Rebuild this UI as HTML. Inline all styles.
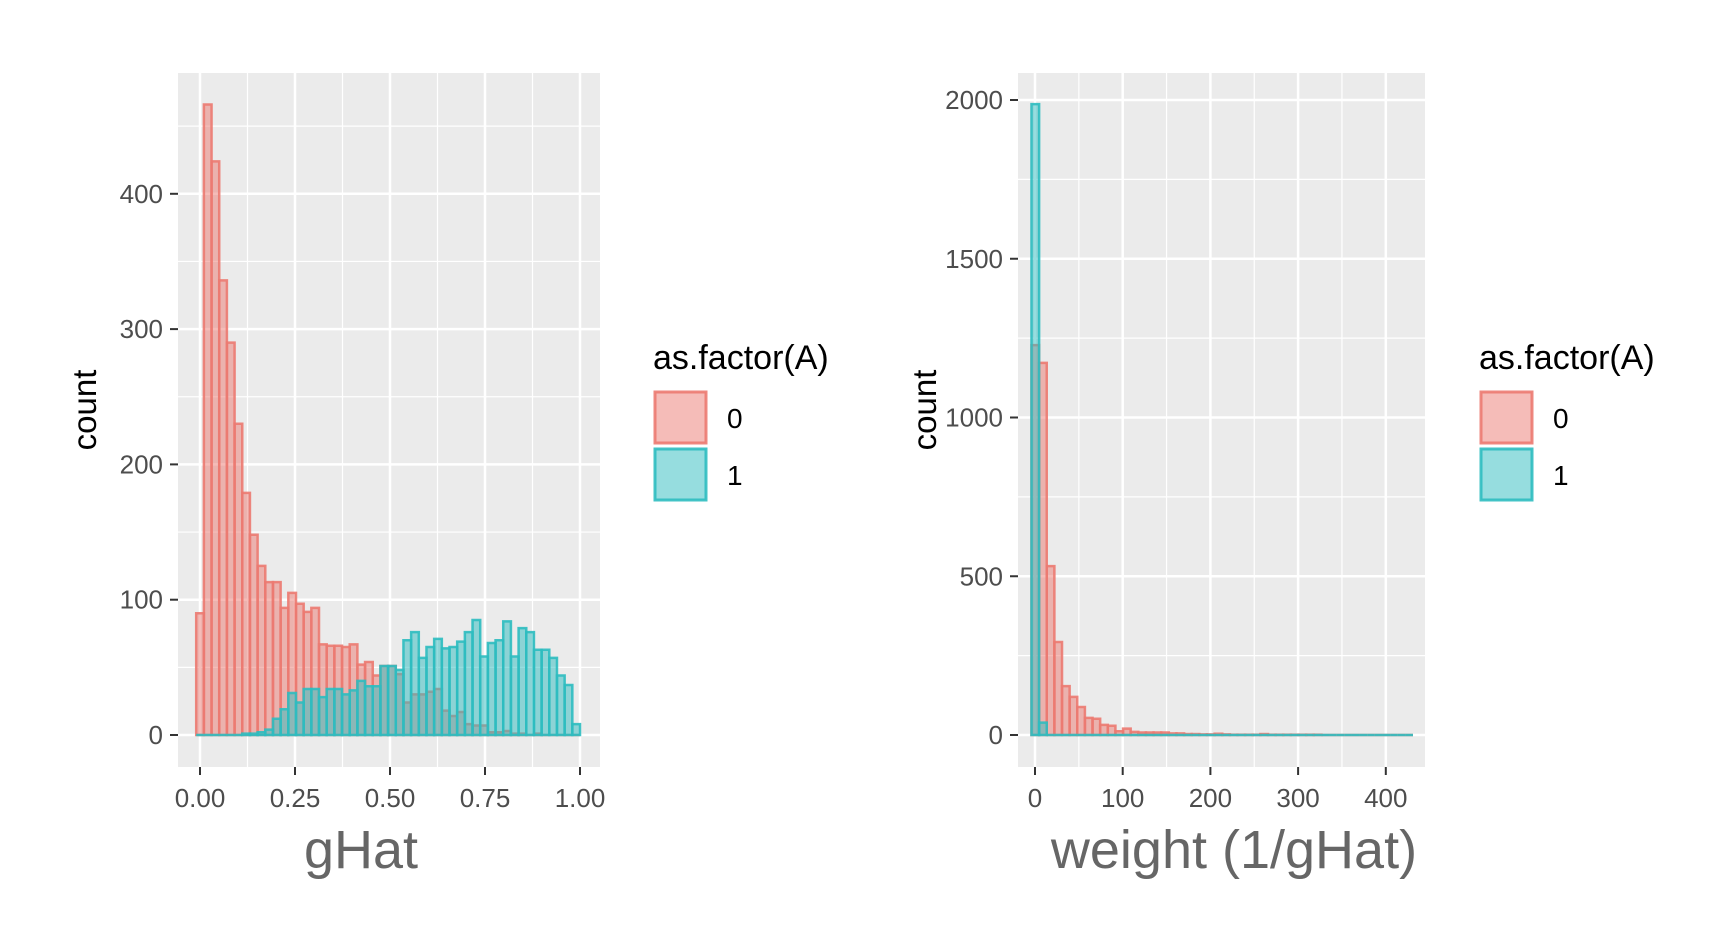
<!DOCTYPE html>
<html><head><meta charset="utf-8"><style>
body{margin:0;background:#fff;width:1716px;height:946px;overflow:hidden}
svg text{font-family:"Liberation Sans",sans-serif}
</style></head><body>
<svg id="root" width="1716" height="946" viewBox="0 0 1716 946" xmlns="http://www.w3.org/2000/svg">
<g id="left"></g>
<g id="right"></g>
</svg>
<script>
// Left chart data (gHat, 50 bins)
const ghatRed = [90,466,424,336,290,230,179,148,125,113,113,94,105,97,91,94,67,66,66,65,67,52,54,44,51,51,45,24,30,30,32,34,18,14,17,8,7,7,2,2,3,1,1,0,1,0,0,0,0,0];
const ghatTeal = [0,0,0,0,0,0,1,1,2,4,12,19,31,24,34,34,28,34,34,30,33,40,36,36,51,51,48,70,76,57,65,71,64,65,69,76,85,58,68,70,84,58,79,76,63,63,57,44,37,8];
const ghatYTicks = [0,100,200,300,400];
const ghatXTicks = ["0.00","0.25","0.50","0.75","1.00"];
// Right chart data (weight, 50 bins)
const wRed = [1228,1172,532,293,154,120,88,54,51,32,29,12,20,10,8,8,8,8,5,5,3,3,2,2,4,2,1,1,1,1,3,1,1,1,1,1,1,1,0,0,0,0,0,0,0,0,0,0,0,0];
const wTeal = [1987,39,0,0,0,0,0,0,0,0,0,0,0,0,0,0,0,0,0,0,0,0,0,0,0,0,0,0,0,0,0,0,0,0,0,0,0,0,0,0,0,0,0,0,0,0,0,0,0,0];
const wYTicks = [0,500,1000,1500,2000];
const wXTicks = ["0","100","200","300","400"];

const NS="http://www.w3.org/2000/svg";
function mk(p,tag,at){const e=document.createElementNS(NS,tag);for(const k in at)e.setAttribute(k,at[k]);p.appendChild(e);return e;}

function draw(g,cfg){
  const {px0,px1,py0,py1,xs,ys,binStart,binW,red,teal,yTicks,xTicks,xTickVals,yMinor,xMinor,title,titleX,legX}=cfg;
  const bg=mk(g,'rect',{x:px0,y:py0,width:px1-px0,height:py1-py0,fill:'#EBEBEB'});
  
  
  yMinor.forEach(v=>{const l=mk(g,'line',{x1:px0,x2:px1,y1:ys(v),y2:ys(v),stroke:'#fff','stroke-width':1.2});
    });
  xMinor.forEach(v=>{const l=mk(g,'line',{y1:py0,y2:py1,x1:xs(v),x2:xs(v),stroke:'#fff','stroke-width':1.2});
    });
  yTicks.forEach(v=>{const l=mk(g,'line',{x1:px0,x2:px1,y1:ys(v),y2:ys(v),stroke:'#fff','stroke-width':2.5});
    
    const t=mk(g,'line',{x1:px0-8,x2:px0,y1:ys(v),y2:ys(v),stroke:'#333','stroke-width':2});
    
    const tx=mk(g,'text',{x:px0-15,y:ys(v)+9,'text-anchor':'end','font-size':26,fill:'#4D4D4D'});tx.textContent=String(v);
    });
  xTickVals.forEach((v,i)=>{const l=mk(g,'line',{y1:py0,y2:py1,x1:xs(v),x2:xs(v),stroke:'#fff','stroke-width':2.5});
    
    const t=mk(g,'line',{y1:py1,y2:py1+8,x1:xs(v),x2:xs(v),stroke:'#333','stroke-width':2});
    
    const tx=mk(g,'text',{x:xs(v),y:py1+40,'text-anchor':'middle','font-size':26,fill:'#4D4D4D'});tx.textContent=xTicks[i];
    });
  function bars(arr,col,name){arr.forEach((v,i)=>{const x0=xs(binStart+i*binW),x1=xs(binStart+(i+1)*binW);
    const y0=ys(0),y1=ys(v);
    const r=mk(g,'path',{d:`M${x0},${y0}V${y1}H${x1}V${y0}Z`,fill:col,'fill-opacity':0.5,stroke:col,'stroke-opacity':0.9,'stroke-width':2.5});
    });}
  bars(red,'#EC7A71','bar-a0');
  bars(teal,'#2EBCC0','bar-a1');
  const yt=mk(g,'text',{x:0,y:0,transform:`translate(${px0-82},${(py0+py1)/2-10}) rotate(-90)`,'text-anchor':'middle','font-size':33,fill:'#000'});yt.textContent='count';
  
  const xt=mk(g,'text',{x:titleX,y:868,'text-anchor':'middle','font-size':54,fill:'#666'});xt.textContent=title;
  
  const lg=mk(g,'g',{});
  const lt=mk(lg,'text',{x:legX,y:369,'font-size':34,fill:'#000'});lt.textContent='as.factor(A)';
  
  [['#EC7A71','0',392],['#2EBCC0','1',449]].forEach(([c,l,y])=>{
    const k=mk(lg,'rect',{x:legX+2,y:y,width:51,height:51,fill:c,'fill-opacity':0.5,stroke:c,'stroke-opacity':0.9,'stroke-width':3});
    
    const t=mk(lg,'text',{x:legX+74,y:y+36,'font-size':28,fill:'#000'});t.textContent=l;
    });
}
draw(document.getElementById('left'),{px0:178,px1:600,py0:73,py1:767,
  xs:v=>200+v*380, ys:v=>735-v*1.353, binStart:-0.01,binW:0.0202,
  red:ghatRed,teal:ghatTeal,yTicks:ghatYTicks,xTicks:ghatXTicks,xTickVals:[0,0.25,0.5,0.75,1],
  yMinor:[50,150,250,350,450],xMinor:[0.125,0.375,0.625,0.875],title:'gHat',titleX:361,legX:653});
draw(document.getElementById('right'),{px0:1018,px1:1425,py0:73,py1:767,
  xs:v=>1035+v*0.877, ys:v=>735-v*0.3175, binStart:-4,binW:8.7,
  red:wRed,teal:wTeal,yTicks:wYTicks,xTicks:wXTicks,xTickVals:[0,100,200,300,400],
  yMinor:[250,750,1250,1750],xMinor:[50,150,250,350],title:'weight (1/gHat)',titleX:1234,legX:1479});
</script>
</body></html>
